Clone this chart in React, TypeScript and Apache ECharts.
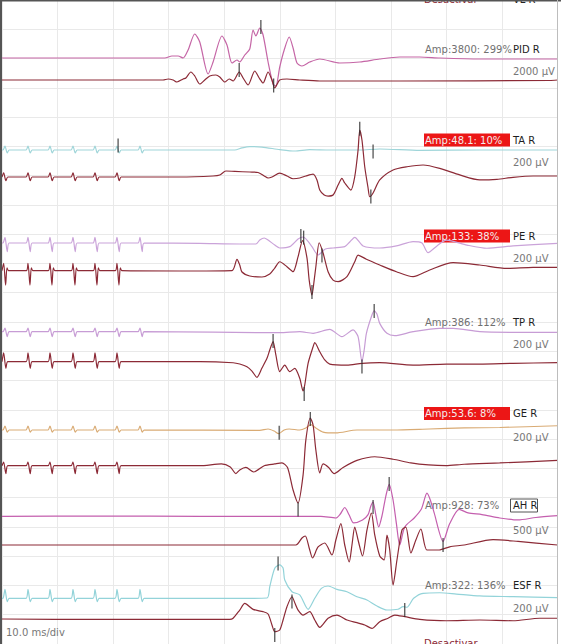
import React, { useEffect, useRef } from "react";
import * as echarts from "echarts";

// ---------- data (time in ms, amplitude in µV relative to each trace baseline) ----------
const PID_REF = [[0,0],[29.3,0],[30.6,137],[31.7,137],[32.6,0],[33.5,547],[34.7,1640],[35.6,1093],[37.1,-1093],[38.0,-273],[39.6,1503],[40.5,888],[41.4,-342],[42.3,-137],[42.8,-273],[43.7,205],[44.6,615],[45.2,1913],[45.7,1503],[46.4,2050],[47.0,1572],[47.9,-273],[48.8,-1777],[49.3,-1913],[50.0,-615],[50.8,547],[51.7,1435],[52.4,683],[53.1,-342],[54.0,-547],[55.4,-273],[57.2,-68],[60.8,-342],[64.4,-273],[68.0,-68],[71.6,68],[75.2,68],[78.8,0],[86.0,-68],[100,-68]];
const PID_RESP = [[0,0],[29.0,0],[29.9,68],[30.8,0],[31.5,-137],[32.6,68],[33.1,137],[34.0,547],[34.7,273],[35.6,-273],[36.5,0],[37.4,273],[38.5,342],[39.2,205],[40.1,-137],[40.9,68],[41.6,-68],[42.7,547],[43.4,137],[44.3,-342],[45.5,615],[46.3,137],[47.0,-205],[47.9,547],[48.6,0],[49.1,-547],[50.0,0],[51.3,68],[53.6,0],[57.2,-68],[71.6,-68],[98.6,-34],[100,0]];

const TA_REF = [[0,0],[0.19,0],[0.54,27],[0.94,-20],[1.29,0],[4.33,0],[4.68,27],[5.08,-20],[5.43,0],[8.29,0],[8.64,27],[9.04,-20],[9.39,0],[12.43,0],[12.78,27],[13.18,-20],[13.53,0],[16.39,0],[16.74,27],[17.14,-20],[17.49,0],[20.35,0],[20.7,27],[21.1,-20],[21.45,0],[24.49,0],[24.84,27],[25.24,-20],[25.59,0],[41.9,0],[43.2,14],[44.6,23],[46.8,20],[50,3],[52.7,-7],[55.4,3],[59,0],[64.4,0],[68,7],[75.2,-3],[86,0],[100,0]];
const TA_RESP = [[0,0],[0.3,29],[0.7,-25],[1.05,0],[4.33,0],[4.68,29],[5.08,-25],[5.43,0],[8.29,0],[8.64,29],[9.04,-25],[9.39,0],[12.43,0],[12.78,29],[13.18,-25],[13.53,0],[16.39,0],[16.74,29],[17.14,-25],[17.49,0],[20.35,0],[20.7,29],[21.1,-25],[21.45,0],[32,0],[38,7],[39.2,14],[40.3,41],[41.9,38],[44.6,34],[46.1,31],[47.2,7],[47.9,-7],[48.6,0],[50,27],[51.3,7],[52.4,-12],[53.6,-7],[54.7,7],[56,20],[56.7,-20],[57.2,-89],[58,-123],[58.7,-130],[59.6,-123],[60.5,-55],[61.2,-9],[61.7,-41],[62.8,-89],[63.5,2],[64.1,184],[64.4,321],[64.8,253],[65.3,70],[65.9,-75],[66.2,-135],[66.8,-109],[68,-20],[70.4,48],[72.9,70],[75.8,82],[78.8,59],[82.4,14],[86,-20],[89.1,-16],[92,-2],[95.6,7],[100,7]];

const PE_REF = [[0,0],[0.19,0],[0.54,39],[0.94,-59],[1.29,0],[4.33,0],[4.68,39],[5.08,-59],[5.43,0],[8.29,0],[8.64,39],[9.04,-59],[9.39,0],[12.43,0],[12.78,39],[13.18,-59],[13.53,0],[16.39,0],[16.74,39],[17.14,-59],[17.49,0],[20.35,0],[20.7,39],[21.1,-59],[21.45,0],[24.49,0],[24.84,39],[25.24,-59],[25.59,0],[35.6,-3],[42.8,-7],[45.7,-7],[46.4,20],[47.2,34],[47.9,20],[49.1,-14],[50,-34],[51.8,-25],[53.3,27],[54.2,41],[54.9,20],[55.8,-25],[56.9,-82],[58.2,-41],[59.6,-34],[61.7,-25],[62.6,7],[63.5,39],[65,-20],[68,-34],[71,-20],[74,9],[75.6,0],[76.7,-66],[78.3,-20],[80,20],[83.7,-14],[87.3,-36],[92,-20],[100,-2]];
const PE_RESP = [[0,0],[0.3,51],[0.65,-98],[0.9,20],[1.2,0],[4.38,0],[4.68,51],[5.03,-98],[5.28,20],[5.58,0],[8.34,0],[8.64,51],[8.99,-98],[9.24,20],[9.54,0],[12.48,0],[12.78,51],[13.13,-98],[13.38,20],[13.68,0],[16.44,0],[16.74,51],[17.09,-98],[17.34,20],[17.64,0],[20.4,0],[20.7,51],[21.05,-98],[21.3,20],[21.6,0],[32,-2],[41.4,1],[42.3,78],[42.8,39],[43.2,-9],[44.6,-36],[46.8,-43],[48.2,-23],[49.1,18],[50,61],[51.3,27],[52.4,-7],[53.3,96],[54.1,205],[54.9,87],[55.3,-64],[55.8,-166],[56.2,-64],[56.5,27],[57.1,191],[57.8,121],[58.7,-7],[59.6,-64],[60.5,-75],[62.1,-41],[63.5,61],[64.1,107],[65.6,78],[68,39],[71,-7],[74,-41],[77,5],[81.2,55],[86,39],[90.9,16],[95.6,23],[100,23]];

const TP_REF = [[0,0],[0.19,0],[0.54,25],[0.94,-34],[1.29,0],[4.33,0],[4.68,25],[5.08,-34],[5.43,0],[8.29,0],[8.64,25],[9.04,-34],[9.39,0],[12.43,0],[12.78,25],[13.18,-34],[13.53,0],[16.39,0],[16.74,25],[17.14,-34],[17.49,0],[20.35,0],[20.7,25],[21.1,-34],[21.45,0],[24.49,0],[24.84,25],[25.24,-34],[25.59,0],[50,-7],[53.6,0],[56,-11],[59,16],[61.2,-34],[63.2,12],[64.1,-34],[64.8,-205],[65.2,-125],[65.6,-11],[66.6,114],[67,143],[67.5,121],[68,57],[69.3,-11],[70.7,-27],[74,0],[78.8,23],[81.2,23],[86,0],[92,-4],[100,-4]];
const TP_RESP = [[0,0],[0.3,61],[0.7,-45],[1.05,0],[4.33,0],[4.68,61],[5.08,-45],[5.43,0],[8.29,0],[8.64,61],[9.04,-45],[9.39,0],[12.43,0],[12.78,61],[13.18,-45],[13.53,0],[16.39,0],[16.74,61],[17.14,-45],[17.49,0],[20.35,0],[20.7,61],[21.1,-45],[21.45,0],[35.6,0],[41.6,-7],[42.8,-16],[44.1,-34],[45,-64],[45.9,-107],[46.8,-43],[47.7,23],[48.2,80],[48.8,137],[49.3,46],[50,-68],[50.9,-23],[51.8,-68],[52.7,-45],[53.6,-113],[54.2,-200],[54.5,-159],[55.1,-11],[56,102],[56.3,130],[57.2,68],[58.1,12],[59,-16],[62.1,-23],[64.8,-11],[68,-7],[74,-23],[80,-16],[86,-16],[92,-11],[100,-7]];

const GE_REF = [[0,0],[0.19,0],[0.54,27],[0.94,-14],[1.29,0],[4.33,0],[4.68,27],[5.08,-14],[5.43,0],[8.29,0],[8.64,27],[9.04,-14],[9.39,0],[12.43,0],[12.78,27],[13.18,-14],[13.53,0],[16.39,0],[16.74,27],[17.14,-14],[17.49,0],[20.35,0],[20.7,27],[21.1,-14],[21.45,0],[24.49,0],[24.84,27],[25.24,-14],[25.59,0],[46.4,-3],[47.9,7],[49,-7],[49.8,-25],[50.8,0],[51.7,7],[53.6,0],[54.7,14],[55.6,37],[56.5,14],[57.8,-14],[60.1,-20],[63.9,0],[70.4,0],[76.9,7],[83.2,14],[89.6,17],[100,29]];
const GE_RESP = [[0,0],[0.3,25],[0.7,-54],[1.05,0],[4.33,0],[4.68,25],[5.08,-54],[5.43,0],[8.29,0],[8.64,25],[9.04,-54],[9.39,0],[12.43,0],[12.78,25],[13.18,-54],[13.53,0],[16.39,0],[16.74,25],[17.14,-54],[17.49,0],[20.35,0],[20.7,25],[21.1,-54],[21.45,0],[35.6,0],[39.5,12],[41.1,-9],[42.1,-54],[42.8,-29],[43.9,-12],[45.3,-43],[47.2,0],[49.1,12],[50.4,19],[51.4,-12],[52.4,-166],[53.3,-255],[54.2,-64],[54.7,176],[55.5,326],[56,278],[56.5,107],[57.2,-49],[57.8,12],[58.8,-12],[59.8,-54],[61.4,-12],[63.9,36],[67.1,61],[70.4,44],[73.6,19],[76.8,5],[79.9,0],[83.2,10],[89.6,19],[100,36]];

const AH_REF = [[0,0],[17.6,7],[35.6,0],[57.4,0],[60.1,-27],[60.9,41],[61.7,152],[62.5,24],[63.3,-111],[64.9,-61],[65.9,31],[66.4,178],[66.8,246],[67.3,24],[67.8,-181],[68.4,7],[69.1,348],[69.7,548],[70.4,280],[71,-123],[71.6,-488],[72.5,-181],[74.2,-27],[75.5,126],[76.5,396],[77.1,280],[77.8,60],[79.4,-427],[80.6,-123],[82.3,121],[83.9,60],[86.4,31],[89.6,-27],[92.9,-61],[96.1,-19],[100,12]];
const AH_RESP = [[0,0],[52.9,0],[54,120],[54.6,154],[55.3,-51],[55.9,-222],[56.9,-34],[58.1,34],[59.4,-171],[60.1,85],[61,366],[61.7,0],[62.5,-290],[63,0],[63.5,307],[64.1,85],[64.9,-188],[65.7,256],[66.5,547],[67.1,171],[68,-188],[68.8,-256],[69.3,171],[69.8,-85],[70.4,-683],[71.1,-256],[72,256],[72.7,307],[73.6,-137],[74.5,85],[75.4,273],[76.5,-85],[78.7,-85],[80.6,-31],[83.2,0],[88.4,92],[92.9,61],[100,0]];

const ESF_REF = [[0,0],[0.19,0],[0.54,61],[0.94,-23],[1.29,0],[4.33,0],[4.68,61],[5.08,-23],[5.43,0],[8.29,0],[8.64,61],[9.04,-23],[9.39,0],[12.43,0],[12.78,61],[13.18,-23],[13.53,0],[16.39,0],[16.74,61],[17.14,-23],[17.49,0],[20.35,0],[20.7,61],[21.1,-23],[21.45,0],[24.49,0],[24.84,61],[25.24,-23],[25.59,0],[41.1,-1],[47.7,2],[48.2,79],[49.1,205],[50,228],[50.6,207],[50.9,125],[52.2,45],[53.6,23],[55.1,-75],[56.3,0],[57.5,68],[58.7,84],[60.3,61],[62.1,45],[63.9,11],[65.7,-12],[67.5,-53],[69.3,-80],[71.3,-75],[72.2,-57],[72.9,-61],[74.1,0],[75.8,34],[78.8,38],[81.8,29],[86,16],[92,11],[100,4]];
const ESF_RESP = [[0,0],[17.6,-3],[41,-3],[41.6,5],[42.8,61],[43.7,107],[45.2,66],[47,50],[47.9,34],[48.6,-41],[49.1,-87],[50,-75],[50.6,-7],[51.3,84],[52.2,152],[52.8,102],[53.3,61],[54.2,27],[55.4,50],[56.3,-7],[57.2,-57],[58.7,5],[60.3,27],[62.1,-7],[63.9,-25],[65.3,-41],[66.6,-64],[68,-18],[69.5,5],[70.7,27],[72.5,16],[75.2,-2],[80,-12],[86,-7],[92,-12],[96.8,5],[100,5]];

// cursor markers (ms, µV)
const PID_REF_MARK = [[46.6, 2118]];
const PID_RESP_MARK = [[42.7, 683], [48.9, -376]];
const TA_REF_MARK = [[20.9, 31], [66.8, -10]];
const TA_RESP_MARK = [[64.4, 330], [66.4, -133]];
const PE_REF_MARK = [[53.8, 48]];
const PE_RESP_MARK = [[54.3, 226], [57.6, 103], [55.8, -146]];
const TP_REF_MARK = [[67, 141], [64.8, -238]];
const TP_RESP_MARK = [[48.8, 141], [54.4, -221]];
const GE_REF_MARK = [[49.9, -18]];
const GE_RESP_MARK = [[55.5, 319], [53.3, -299]];
const AH_REF_MARK = [[66.8, 161], [69.7, 553], [79.4, -488]];
const AH_RESP_MARK: number[][] = [];
const ESF_REF_MARK = [[49.7, 238], [72.5, -80]];
const ESF_RESP_MARK = [[49.1, -109], [52.2, 120]];

const MUSCLES = ["PID R", "TA R", "PE R", "TP R", "GE R", "AH R", "ESF R"];
const AMP_TEXT = ["Amp:3800: 299%", "Amp:48.1: 10%", "Amp:133: 38%", "Amp:386: 112%", "Amp:53.6: 8%", "Amp:928: 73%", "Amp:322: 136%"];
const AMP_ALERT = [false, true, true, false, true, false, false];
const SENS_UV = [2000, 200, 200, 200, 200, 500, 200];
const SENS_TEXT = ["2000 µV", "200 µV", "200 µV", "200 µV", "200 µV", "500 µV", "200 µV"];

// ---------- layout / style ----------
const W = 561, H = 644;
const PLOT_L = 2, PLOT_R = 557.5;
const DIVS_Y = 22;
const REF_BASE = [58, 150, 243, 331.7, 430, 516.4, 598.3];
const RESP_BASE = [80, 177, 270.7, 361.7, 465.7, 545, 619];
const LABEL_Y = [49, 140, 236, 322, 413.5, 505.5, 585];
const SENS_Y = [71, 162, 258, 344, 437, 530, 608];
const REF_COLORS = ["#c566a6", "#9fd5d9", "#caa3d9", "#c79cd5", "#d9ab74", "#c45fae", "#93d3d9"];
const RESP_COLOR = "#8c2a36";
const FONT = "10px 'DejaVu Sans', Verdana, sans-serif";

const REFS = [PID_REF, TA_REF, PE_REF, TP_REF, GE_REF, AH_REF, ESF_REF];
const RESPS = [PID_RESP, TA_RESP, PE_RESP, TP_RESP, GE_RESP, AH_RESP, ESF_RESP];
const REF_MARKS = [PID_REF_MARK, TA_REF_MARK, PE_REF_MARK, TP_REF_MARK, GE_REF_MARK, AH_REF_MARK, ESF_REF_MARK];
const RESP_MARKS = [PID_RESP_MARK, TA_RESP_MARK, PE_RESP_MARK, TP_RESP_MARK, GE_RESP_MARK, AH_RESP_MARK, ESF_RESP_MARK];

function buildOption() {
  const yAxis: any[] = [
    { type: "value", min: 0, max: DIVS_Y, interval: 1, inverse: true, axisLine: { show: false }, axisTick: { show: false }, axisLabel: { show: false }, splitLine: { show: true, lineStyle: { color: "#e9e9e9", width: 1 } } },
  ];
  const series: any[] = [];
  const addTrace = (data: number[][], marks: number[][], base: number, sens: number, color: string, z: number) => {
    const k = (sens * DIVS_Y) / H; // µV per px
    const idx = yAxis.length;
    yAxis.push({ type: "value", show: false, min: -(H - base) * k, max: base * k, splitLine: { show: false } });
    series.push({ type: "line", yAxisIndex: idx, data, showSymbol: false, symbol: "none", smooth: 0.25, clip: false, silent: true, z, lineStyle: { color, width: 1.2 } });
    if (marks.length) {
      series.push({ type: "scatter", yAxisIndex: idx, data: marks, symbol: "rect", symbolSize: [1.3, 14], clip: false, silent: true, z: z + 2, itemStyle: { color: "#2b2b2b" } });
    }
  };
  for (let i = 0; i < 7; i++) {
    addTrace(REFS[i], REF_MARKS[i], REF_BASE[i], SENS_UV[i], REF_COLORS[i], 3);
    addTrace(RESPS[i], RESP_MARKS[i], RESP_BASE[i], SENS_UV[i], RESP_COLOR, 4);
  }

  const graphic: any[] = [
    { type: "rect", shape: { x: 0, y: 0, width: W, height: 1.5 }, style: { fill: "#555" }, z: 100 },
    { type: "rect", shape: { x: 0, y: 0, width: 2, height: H }, style: { fill: "#555" }, z: 100 },
    { type: "line", shape: { x1: PLOT_R, y1: 0, x2: PLOT_R, y2: H }, style: { stroke: "#bdbdbd", lineWidth: 1 }, z: 100 },
    { type: "text", x: 424, y: -1, style: { text: "Desactivar", font: FONT, fill: RESP_COLOR, verticalAlign: "middle" }, z: 50 },
    { type: "text", x: 513, y: -1, style: { text: "VL R", font: FONT, fill: "#222", verticalAlign: "middle" }, z: 50 },
    { type: "text", x: 424, y: 643, style: { text: "Desactivar", font: FONT, fill: RESP_COLOR, verticalAlign: "middle" }, z: 50 },
    { type: "text", x: 6, y: 632, style: { text: "10.0 ms/div", font: FONT, fill: "#777", verticalAlign: "middle" }, z: 50 },
  ];
  for (let i = 0; i < 7; i++) {
    const y = LABEL_Y[i];
    if (AMP_ALERT[i]) {
      graphic.push({ type: "rect", shape: { x: 424, y: y - 6.5, width: 86, height: 13 }, style: { fill: "#ec1616" }, z: 1 });
      graphic.push({ type: "text", x: 425, y, style: { text: AMP_TEXT[i], font: FONT, fill: "#f3eeee", verticalAlign: "middle" }, z: 2 });
    } else {
      graphic.push({ type: "text", x: 425, y, style: { text: AMP_TEXT[i], font: FONT, fill: "#707070", verticalAlign: "middle" }, z: 2 });
    }
    if (MUSCLES[i] === "AH R") {
      graphic.push({ type: "rect", shape: { x: 510.5, y: y - 6.5, width: 27, height: 13 }, style: { fill: "none", stroke: "#555", lineWidth: 1 }, z: 2 });
    }
    graphic.push({ type: "text", x: 513, y, style: { text: MUSCLES[i], font: FONT, fill: "#1e1e1e", verticalAlign: "middle" }, z: 2 });
    graphic.push({ type: "text", x: 513, y: SENS_Y[i], style: { text: SENS_TEXT[i], font: FONT, fill: "#777", verticalAlign: "middle" }, z: 2 });
  }

  return {
    animation: false,
    backgroundColor: "#ffffff",
    grid: { left: PLOT_L, right: W - PLOT_R, top: 0, bottom: 0, containLabel: false },
    xAxis: { type: "value", min: 0, max: 100, interval: 10, axisLine: { show: false }, axisTick: { show: false }, axisLabel: { show: false }, splitLine: { show: true, lineStyle: { color: "#e9e9e9", width: 1 } } },
    yAxis,
    series,
    graphic,
  };
}

export default function App() {
  const ref = useRef<HTMLDivElement>(null);
  useEffect(() => {
    if (!ref.current) return;
    const chart = echarts.init(ref.current, undefined, { renderer: "svg" });
    chart.setOption(buildOption() as any);
    return () => chart.dispose();
  }, []);
  return <div ref={ref} style={{ position: "fixed", left: 0, top: 0, width: W, height: H, background: "#fff" }} />;
}
